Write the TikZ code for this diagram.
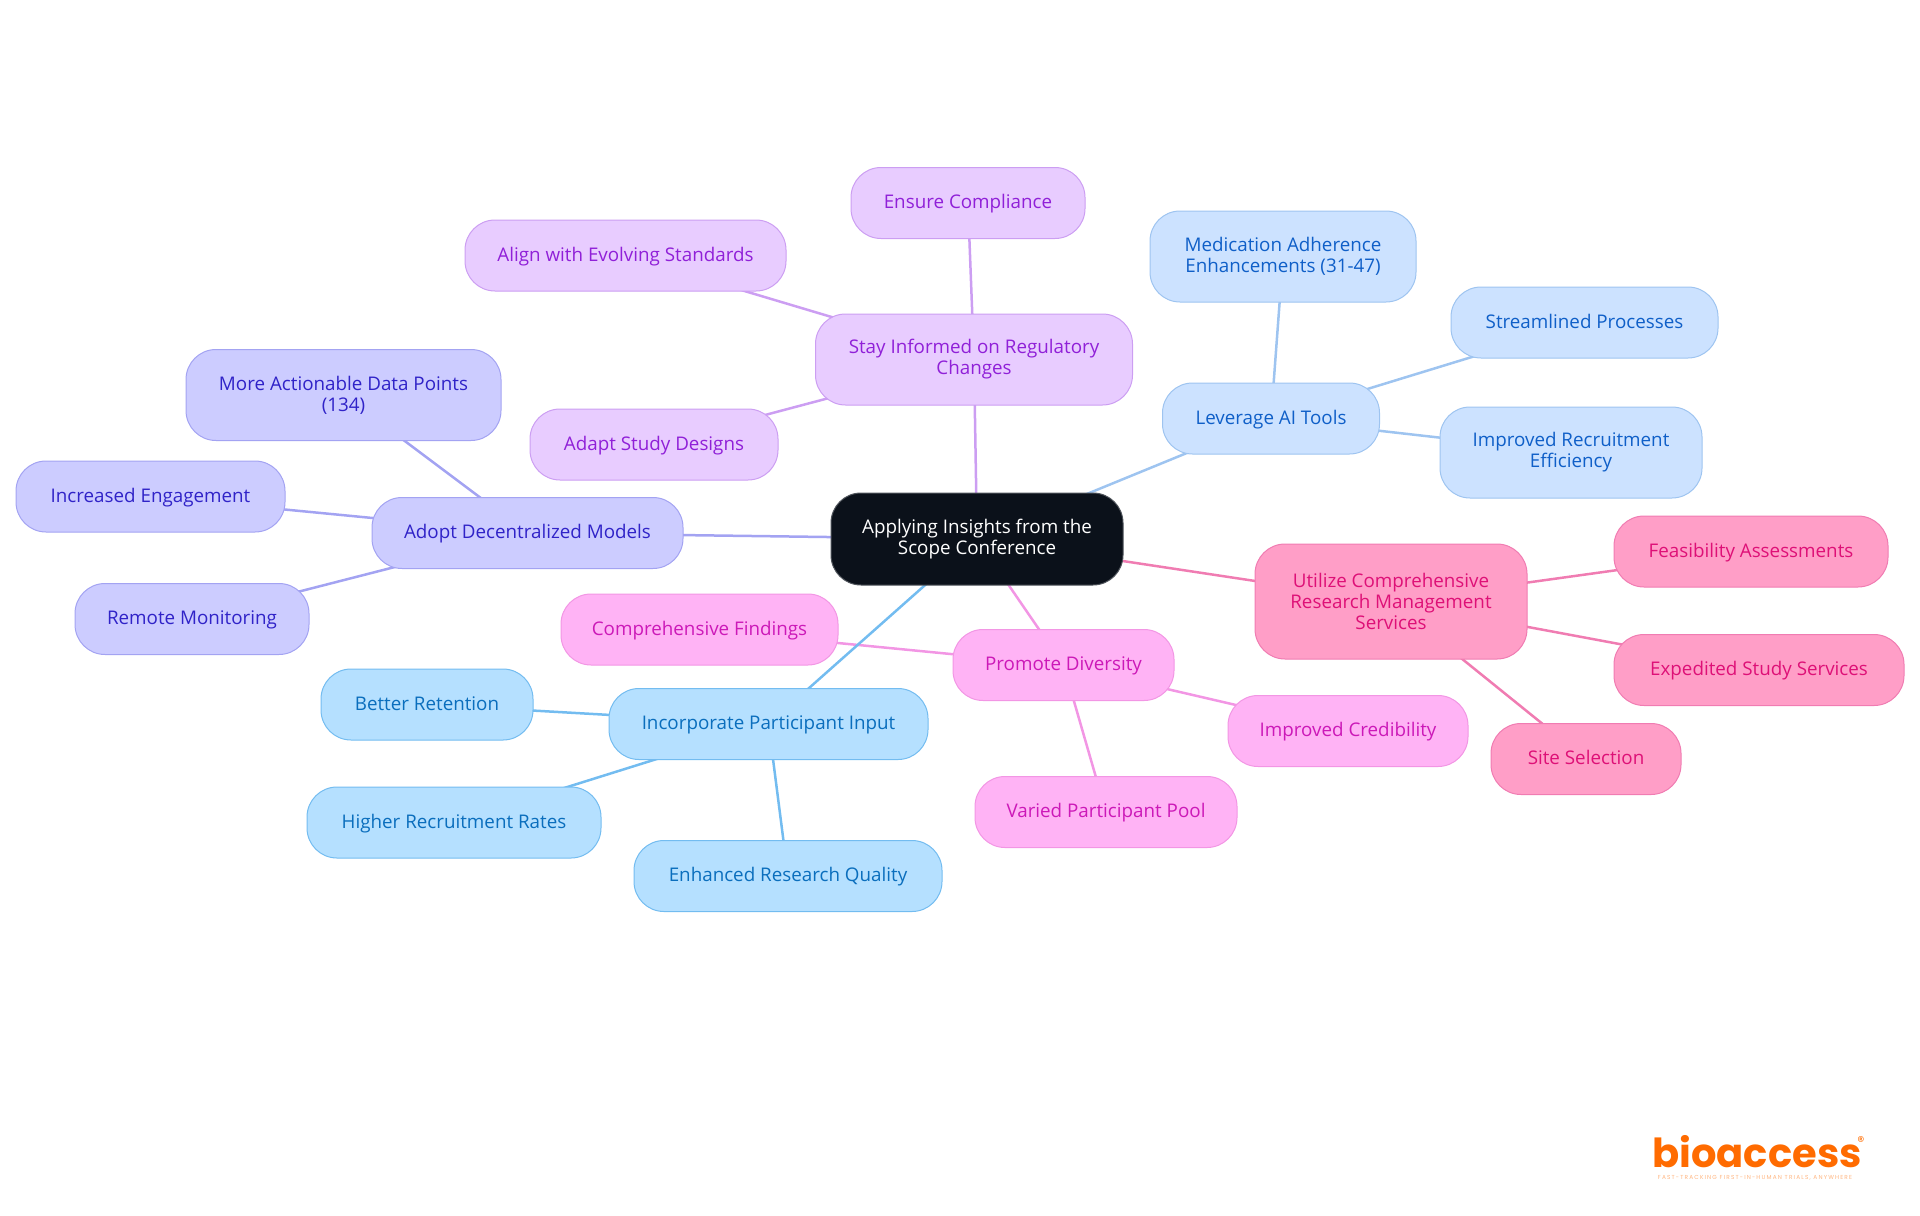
\documentclass[tikz,border=0pt]{standalone}
\usepackage{fontspec}
\setmainfont{Open Sans}
\newfontfamily\logofont{Poppins}
\newfontfamily\tagfont[LetterSpace=20]{Poppins}
\usetikzlibrary{backgrounds}

\definecolor{rootfill}{HTML}{0B111A}
\definecolor{rootline}{HTML}{4F545B}
\definecolor{pinkfill}{HTML}{FF9EC7}
\definecolor{pinkline}{HTML}{F07CB2}
\definecolor{pinktext}{HTML}{DE1077}
\definecolor{magfill}{HTML}{FFB3F5}
\definecolor{magline}{HTML}{F296E4}
\definecolor{magtext}{HTML}{CC19B8}
\definecolor{skyfill}{HTML}{B5E0FF}
\definecolor{skyline}{HTML}{73BCF0}
\definecolor{skytext}{HTML}{0A6EBD}
\definecolor{lavfill}{HTML}{CCCCFF}
\definecolor{lavline}{HTML}{A3A3F2}
\definecolor{lavtext}{HTML}{3023C8}
\definecolor{purfill}{HTML}{E8CCFF}
\definecolor{purline}{HTML}{CC9EF2}
\definecolor{purtext}{HTML}{9020D8}
\definecolor{bluefill}{HTML}{CCE2FF}
\definecolor{blueline}{HTML}{9EC4F0}
\definecolor{bluetext}{HTML}{0F5FC8}
\definecolor{logoorange}{HTML}{FF6B00}

\tikzset{
	bubble/.style = {draw, line width = 0.5pt, rounded corners = 15pt, inner sep = 0pt, align = center, font = \fontsize{9.4}{10.5}\selectfont},
	oneline/.style = {bubble, minimum height = 35.5pt, text height = 7.5pt, text depth = 1.7pt},
	twoline/.style = {bubble, minimum height = 45.5pt},
	threeline/.style = {bubble, minimum height = 57.5pt},
	rootnode/.style = {twoline, fill = rootfill, draw = rootline, text = white},
	pinknode/.style = {fill = pinkfill, draw = pinkline, text = pinktext},
	magnode/.style = {fill = magfill, draw = magline, text = magtext},
	skynode/.style = {fill = skyfill, draw = skyline, text = skytext},
	lavnode/.style = {fill = lavfill, draw = lavline, text = lavtext},
	purnode/.style = {fill = purfill, draw = purline, text = purtext},
	bluenode/.style = {fill = bluefill, draw = blueline, text = bluetext},
	link/.style = {line width = 1.25pt},
}

\begin{document}
\begin{tikzpicture}[x = 0.5pt, y = -0.5pt]
	\useasboundingbox (0,0) rectangle (1920,1215);

	\node [rootnode, minimum width = 146pt, minimum height = 46pt] (root) at (977,539) {Applying Insights from the\\Scope Conference};

	% regulatory branch
	\node [twoline, purnode, minimum width = 158.5pt] (stay) at (974,359.5) {Stay Informed on Regulatory\\Changes};
	\node [oneline, purnode, minimum width = 117pt] (ensure) at (968,203) {Ensure Compliance};
	\node [oneline, purnode, minimum width = 160.5pt] (align) at (625.5,255.5) {Align with Evolving Standards};
	\node [oneline, purnode, minimum width = 124pt] (adapt) at (654,444.5) {Adapt Study Designs};

	% ai branch
	\node [oneline, bluenode, minimum width = 108.5pt] (leverage) at (1271,418.5) {Leverage AI Tools};
	\node [twoline, bluenode, minimum width = 133pt] (medication) at (1283,256.5) {Medication Adherence\\Enhancements (31-47)};
	\node [oneline, bluenode, minimum width = 133.5pt] (streamlined) at (1584.5,322.5) {Streamlined Processes};
	\node [twoline, bluenode, minimum width = 131pt] (recruitment) at (1571,452.5) {Improved Recruitment\\Efficiency};

	% decentralized branch
	\node [oneline, lavnode, minimum width = 155.5pt] (adopt) at (527.5,533) {Adopt Decentralized Models};
	\node [twoline, lavnode, minimum width = 157.5pt] (actionable) at (343.5,395) {More Actionable Data Points\\(134)};
	\node [oneline, lavnode, minimum width = 134.5pt] (engagement) at (150.5,496.5) {Increased Engagement};
	\node [oneline, lavnode, minimum width = 117pt] (monitoring) at (192,619) {Remote Monitoring};

	% management branch
	\node [threeline, pinknode, minimum width = 136pt] (utilize) at (1391,601.5) {Utilize Comprehensive\\Research Management\\Services};
	\node [oneline, pinknode, minimum width = 137pt] (feasibility) at (1751,551.5) {Feasibility Assessments};
	\node [oneline, pinknode, minimum width = 145pt] (expedited) at (1759,670) {Expedited Study Services};
	\node [oneline, pinknode, minimum width = 95pt] (site) at (1586,759) {Site Selection};

	% diversity branch
	\node [oneline, magnode, minimum width = 110.5pt] (promote) at (1063.5,665) {Promote Diversity};
	\node [oneline, magnode, minimum width = 138.5pt] (findings) at (699.5,629.5) {Comprehensive Findings};
	\node [oneline, magnode, minimum width = 131pt] (pool) at (1106,812) {Varied Participant Pool};
	\node [oneline, magnode, minimum width = 120pt] (credibility) at (1348,731) {Improved Credibility};

	% participant branch
	\node [oneline, skynode, minimum width = 159.5pt] (incorporate) at (768.5,724) {Incorporate Participant Input};
	\node [oneline, skynode, minimum width = 106pt] (retention) at (427,704.5) {Better Retention};
	\node [oneline, skynode, minimum width = 147pt] (rates) at (454,822.5) {Higher Recruitment Rates};
	\node [oneline, skynode, minimum width = 154pt] (quality) at (788,876) {Enhanced Research Quality};

	\begin{scope}[on background layer]
		\begin{scope}[link, purline]
			\draw (root.center) -- (stay.center);
			\draw (stay.center) -- (ensure.center);
			\draw (stay.center) -- (align.center);
			\draw (stay.center) -- (adapt.center);
		\end{scope}
		\begin{scope}[link, blueline]
			\draw (root.center) -- (leverage.center);
			\draw (leverage.center) -- (medication.center);
			\draw (leverage.center) -- (streamlined.center);
			\draw (leverage.center) -- (recruitment.center);
		\end{scope}
		\begin{scope}[link, lavline]
			\draw (root.center) -- (adopt.center);
			\draw (adopt.center) -- (actionable.center);
			\draw (adopt.center) -- (engagement.center);
			\draw (adopt.center) -- (monitoring.center);
		\end{scope}
		\begin{scope}[link, pinkline]
			\draw (root.center) -- (utilize.center);
			\draw (utilize.center) -- (feasibility.center);
			\draw (utilize.center) -- (expedited.center);
			\draw (utilize.center) -- (site.center);
		\end{scope}
		\begin{scope}[link, magline]
			\draw (root.center) -- (promote.center);
			\draw (promote.center) -- (findings.center);
			\draw (promote.center) -- (pool.center);
			\draw (promote.center) -- (credibility.center);
		\end{scope}
		\begin{scope}[link, skyline]
			\draw (root.center) -- (incorporate.center);
			\draw (incorporate.center) -- (retention.center);
			\draw (incorporate.center) -- (rates.center);
			\draw (incorporate.center) -- (quality.center);
		\end{scope}
	\end{scope}

	% logo
	\node [inner sep = 0pt, text = logoorange, font = \logofont\bfseries\fontsize{20}{20}\selectfont] (logo) at (1757,1152) {bioaccess};
	\node [inner sep = 0pt, text = logoorange, font = \logofont\fontsize{7}{7}\selectfont] (mark) at (1861,1142) {\textregistered};
	\node [inner sep = 0pt, text = logoorange!50, font = \tagfont\fontsize{2.9}{3}\selectfont] (tagline) at (1755,1178) {FAST-TRACKING FIRST-IN-HUMAN TRIALS, ANYWHERE};
\end{tikzpicture}
\end{document}
